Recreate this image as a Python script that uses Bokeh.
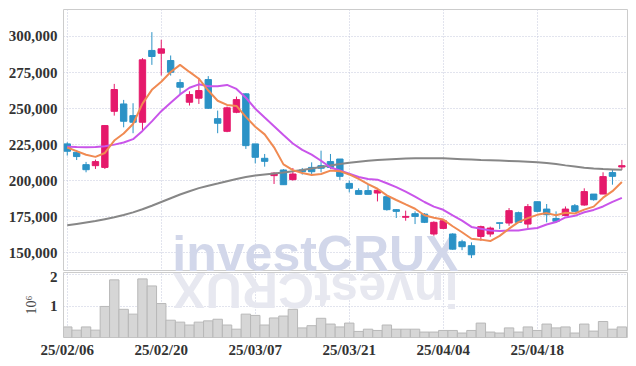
from bokeh.plotting import figure
from bokeh.models import Range1d, FixedTicker, NumeralTickFormatter, ColumnDataSource, Label
from bokeh.layouts import column
from bokeh.embed import file_html
from bokeh.resources import INLINE
import math

# ---- data ----
tick_labels = ["25/02/06", "25/02/20", "25/03/07", "25/03/21", "25/04/04", "25/04/18"]
tick_step = 10

open_ = [225500, 219700, 211100, 210400, 209200, 248100, 253200, 245100, 240500, 290300,
         288400, 283300, 268000, 254400, 257200, 270100, 243000, 234200, 247400, 260200,
         225500, 215500, 203500, 207400, 200700, 207400, 209200, 210400, 213200, 215000,
         198100, 193100, 193100, 191400, 188900, 179900, 174600, 177100, 176800, 163000,
         166900, 163000, 157600, 154900, 161300, 163000, 170800, 170600, 177800, 169900,
         185400, 180300, 173800, 175900, 182600, 183100, 190700, 190700, 205600, 209500]
high = [226600, 221300, 213000, 214600, 238600, 267100, 256000, 253700, 285000, 303000,
        297700, 286800, 270400, 262000, 271300, 272500, 248600, 251400, 258300, 260600,
        225500, 218500, 205800, 208000, 208800, 208800, 212700, 220800, 218500, 215000,
        200000, 194700, 197700, 194200, 189600, 180300, 179200, 178700, 177500, 171800,
        173400, 163500, 159000, 157200, 168800, 168100, 170800, 181000, 178500, 183800,
        185400, 183800, 178700, 182100, 183800, 194700, 190700, 205800, 207400, 214400]
low = [217400, 214300, 205800, 208100, 208100, 245100, 237000, 232900, 234700, 280300,
       272900, 272900, 259700, 252100, 253200, 249800, 232900, 233600, 246800, 222000,
       212000, 209700, 197700, 197200, 200000, 204200, 204600, 205800, 208100, 200500,
       191900, 190500, 190500, 185600, 179200, 174100, 172200, 169900, 170600, 161800,
       166400, 152100, 151800, 146300, 158300, 161100, 166400, 168700, 170600, 167100,
       178000, 171100, 171100, 175700, 178500, 182600, 186100, 190700, 197200, 207400]
close = [220400, 216700, 207600, 213200, 238200, 263200, 241200, 240500, 283800, 286100,
         291400, 275200, 264800, 259700, 262500, 250200, 239800, 250500, 256200, 224300,
         216200, 213400, 205200, 197200, 204600, 206200, 206200, 208600, 209200, 203000,
         194700, 190500, 190500, 193300, 179900, 178700, 175200, 175200, 171100, 171100,
         172200, 152500, 154200, 148600, 168100, 167100, 170400, 179200, 171100, 182000,
         178700, 176400, 171800, 180300, 178700, 192400, 186800, 202800, 203000, 210400]
ma_short = [223000, 220500, 218000, 216500, 219200, 227800, 232700, 239300, 253400, 263000,
            268600, 275400, 280300, 275400, 270700, 262500, 255400, 252500, 251800, 244200,
            237400, 232100, 223100, 211300, 207300, 205300, 203900, 204600, 207000, 206600,
            204300, 201200, 197600, 194400, 189800, 186600, 183500, 180500, 176000, 174300,
            173000, 168400, 164200, 159700, 159100, 158100, 161700, 166700, 171200, 174000,
            176300, 177500, 176000, 177800, 177200, 179900, 182000, 188200, 192700, 199100]
ma_mid = [223500, 223300, 223200, 223300, 223800, 225000, 226500, 228800, 234500, 241100,
          248200, 254000, 259800, 264400, 266800, 265500, 265400, 266400, 263600, 257500,
          249900, 243800, 237800, 231600, 225800, 221400, 218000, 213800, 209100, 207000,
          204800, 202500, 201100, 200700, 198200, 195500, 192400, 189000, 185200, 182000,
          179800, 176000, 172300, 167900, 166700, 165500, 165100, 165500, 165500, 166500,
          167200, 169600, 171300, 174500, 175600, 178100, 179700, 182100, 185300, 188100]
ma_long = [169000, 170000, 171000, 172000, 173300, 174600, 176200, 178000, 180200, 182600,
           185200, 187800, 190400, 192700, 194800, 196500, 198000, 199600, 201200, 202500,
           203500, 204300, 205000, 205700, 206500, 207400, 208400, 209500, 210500, 211500,
           212400, 213100, 213800, 214300, 214700, 215000, 215300, 215500, 215600, 215600,
           215500, 215200, 214900, 214600, 214300, 214100, 213900, 213700, 213400, 213100,
           212700, 212200, 211500, 210600, 209800, 209000, 208400, 208000, 207800, 207600]
volume_m = [0.36, 0.26, 0.36, 0.26, 1.00, 1.83, 0.91, 0.76, 1.86, 1.64,
            1.09, 0.57, 0.51, 0.42, 0.51, 0.55, 0.60, 0.42, 0.29, 0.76,
            0.72, 0.42, 0.64, 0.70, 0.91, 0.33, 0.40, 0.63, 0.45, 0.36,
            0.48, 0.22, 0.29, 0.25, 0.42, 0.29, 0.29, 0.29, 0.20, 0.20,
            0.25, 0.25, 0.17, 0.25, 0.48, 0.20, 0.17, 0.33, 0.20, 0.36,
            0.25, 0.45, 0.33, 0.36, 0.17, 0.45, 0.23, 0.53, 0.29, 0.36]
price_ticks = [150000, 175000, 200000, 225000, 250000, 275000, 300000]
volume_ticks = [1, 2]
watermark = "investCRUX"

# ---- styling ----
UP = "#e5196b"
DOWN = "#2b92c6"
FONT = "Liberation Sans Narrow"
LABEL_COLOR = "#333333"
GRID_COLOR = "#c5c9dc"

idx = list(range(len(close)))
colors = [UP if c >= o else DOWN for o, c in zip(open_, close)]
src = ColumnDataSource(dict(
    x=idx, open=open_, high=high, low=low, close=close,
    top=[max(o, c) for o, c in zip(open_, close)],
    bottom=[min(o, c) for o, c in zip(open_, close)],
    color=colors, ma5=ma_short, ma10=ma_mid, ma_long=ma_long, vol=volume_m,
))

xr = Range1d(-0.4, 59.6)
tick_pos = [i * tick_step for i in range(len(tick_labels))]

p = figure(width=628, height=271, x_range=xr, y_range=Range1d(137000, 318700),
           output_backend="svg", toolbar_location=None, x_axis_location=None,
           min_border_left=63, min_border_right=1, min_border_top=9, min_border_bottom=0)
p.outline_line_color = "#cccccc"
p.background_fill_color = "white"
p.border_fill_color = "white"

p.add_layout(Label(x=26.4, y=149100, text=watermark, text_font="Liberation Sans",
                   text_font_style="bold", text_font_size="50px", text_color="#d2d7ea",
                   text_align="center", text_baseline="middle", level="underlay"))

p.segment(x0="x", y0="low", x1="x", y1="high", color="color", line_width=1, source=src)
p.vbar(x="x", top="top", bottom="bottom", width=0.68, fill_color="color",
       line_color="color", line_width=1, source=src)
p.line("x", "ma_long", source=src, color="#878787", line_width=2)
p.line("x", "ma10", source=src, color="#c955ea", line_width=2)
p.line("x", "ma5", source=src, color="#f08a52", line_width=2)

p.yaxis.ticker = FixedTicker(ticks=price_ticks)
p.yaxis.formatter = NumeralTickFormatter(format="0,0")
p.xgrid.ticker = FixedTicker(ticks=tick_pos)

v = figure(width=628, height=89, x_range=xr, y_range=Range1d(0.03, 2.06),
           output_backend="svg", toolbar_location=None,
           min_border_left=63, min_border_right=1, min_border_top=1, min_border_bottom=0)
v.outline_line_color = "#cccccc"
v.background_fill_color = "white"
v.border_fill_color = "white"
v.add_layout(Label(x=26.4, y=1.52, text=watermark, text_font="Liberation Sans",
                   text_font_style="bold", text_font_size="50px", text_color="#e7e8f0",
                   text_align="center", text_baseline="middle", angle=math.pi,
                   level="underlay"))
v.vbar(x="x", top="vol", bottom=0, width=1.0, fill_color="#d6d6d6",
       line_color="#b8b8b8", line_width=1, source=src)
v.yaxis.ticker = FixedTicker(ticks=volume_ticks)
v.yaxis.axis_label = "10\u2076"
v.yaxis.axis_label_text_font = FONT
v.yaxis.axis_label_text_font_style = "normal"
v.yaxis.axis_label_text_font_size = "14px"
v.yaxis.axis_label_text_color = "#444444"
v.yaxis.axis_label_standoff = 8
v.xaxis.ticker = FixedTicker(ticks=tick_pos)
v.xaxis.major_label_overrides = {t: l for t, l in zip(tick_pos, tick_labels)}

for fig in (p, v):
    for ax in fig.axis:
        ax.axis_line_color = None
        ax.major_tick_line_color = None
        ax.minor_tick_line_color = None
        ax.major_tick_out = 0
        ax.major_tick_in = 0
        ax.minor_tick_out = 0
        ax.major_label_text_font = FONT
        ax.major_label_text_font_style = "bold"
        ax.major_label_text_font_size = "15px"
        ax.major_label_text_color = LABEL_COLOR
        ax.major_label_standoff = 6
    for g in fig.grid:
        g.grid_line_color = GRID_COLOR
        g.grid_line_dash = "1 2"
        g.grid_line_width = 1
v.xaxis.major_label_standoff = 4

layout = column(p, v, spacing=0)
open("out.html", "w").write(file_html(layout, INLINE))
